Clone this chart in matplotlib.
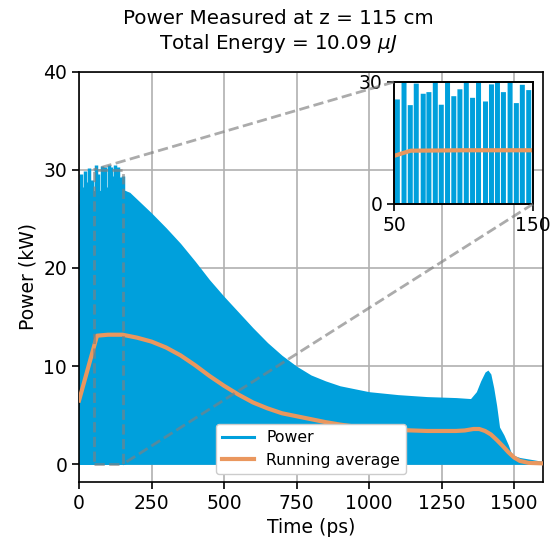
import numpy as np
import matplotlib
matplotlib.use('Agg')
import matplotlib.pyplot as plt
from mpl_toolkits.axes_grid1.inset_locator import mark_inset

# Envolvente de potencia (kW)
t_env = [0, 150, 175, 200, 250, 300, 350, 400, 450, 500, 550, 600, 650,
         700, 750, 800, 850, 900, 950, 1000, 1100, 1200, 1300, 1350, 1370,
         1385, 1400, 1410, 1420, 1430, 1440, 1450, 1465, 1480, 1490, 1500,
         1520, 1550, 1600]
p_env = [27.8, 28.0, 27.7, 27.0, 25.6, 24.1, 22.5, 20.7, 18.8, 17.1, 15.5,
         13.9, 12.4, 11.1, 10.0, 9.1, 8.5, 8.0, 7.7, 7.4, 7.1, 6.9, 6.8, 6.7,
         7.4, 8.5, 9.4, 9.6, 9.2, 7.8, 6.0, 3.8, 3.0, 2.0, 1.2, 0.9, 0.7,
         0.55, 0.3]

# Picos individuales al inicio del pulso
t_peak = [2.9, 7.4, 11.9, 16.4, 20.9, 25.4, 29.9, 34.4, 38.9, 43.4, 47.9,
          52.4, 57.2, 61.7, 66.0, 71.0, 75.1, 79.7, 84.0, 88.5, 93.0, 97.4,
          102.0, 106.5, 110.8, 115.8, 120.1, 124.4, 128.7, 133.5, 138.0,
          142.3, 146.9, 151.4, 155.9]
p_peak = [26.5, 29.6, 27.0, 28.2, 29.9, 27.5, 28.8, 30.2, 26.8, 29.0, 27.8,
          25.7, 30.5, 24.3, 29.6, 27.1, 27.5, 30.4, 24.4, 30.3, 26.5, 28.2,
          30.5, 26.1, 30.3, 25.2, 29.4, 30.5, 27.5, 30.3, 24.8, 29.3, 28.0,
          29.4, 27.8]

# Promedio movil
t_avg = [0, 62, 100, 150, 200, 250, 300, 350, 400, 450, 500, 550, 600, 650,
         700, 750, 800, 850, 900, 950, 1000, 1100, 1200, 1300, 1330, 1360,
         1380, 1400, 1420, 1440, 1460, 1480, 1500, 1520, 1550, 1600]
p_avg = [6.5, 13.1, 13.2, 13.2, 12.9, 12.5, 11.9, 11.1, 10.1, 9.0, 8.0, 7.1,
         6.3, 5.7, 5.2, 4.9, 4.6, 4.3, 4.05, 3.85, 3.7, 3.5, 3.4, 3.4, 3.45,
         3.6, 3.6, 3.4, 3.05, 2.5, 1.9, 1.25, 0.7, 0.35, 0.15, 0.1]

azul = '#00a0dc'
naranja = '#ea975e'
fs = 13.5

fig = plt.figure(figsize=(5.53, 5.41), dpi=100)
ax = fig.add_axes([0.1429, 0.109, 0.8391, 0.7588])

ax.fill_between(t_env, 0, p_env, color=azul, lw=0, zorder=2)
ax.vlines(t_peak, 0, p_peak, color=azul, lw=2.5, zorder=2)
ax.plot(t_avg, p_avg, color=naranja, lw=3, zorder=3)

# entradas de la leyenda
l1, = ax.plot([], [], color=azul, lw=2.2, label='Power')
l2, = ax.plot([], [], color=naranja, lw=3, label='Running average')
ax.legend(handles=[l1, l2], loc='lower center', fontsize=11.3, framealpha=1)

ax.set_xlim(0, 1600)
ax.set_ylim(-1.8, 40)
ax.set_xticks([0, 250, 500, 750, 1000, 1250, 1500])
ax.set_yticks([0, 10, 20, 30, 40])
ax.grid(True, color='#b0b0b0', lw=1.2)
ax.set_axisbelow(True)
ax.tick_params(labelsize=fs, width=1.2, length=5)
for s in ax.spines.values():
    s.set_linewidth(1.2)
ax.set_xlabel('Time (ps)', fontsize=fs)
ax.set_ylabel('Power (kW)', fontsize=fs)
fig.suptitle('Power Measured at z = 115 cm\nTotal Energy = 10.09 $\\mu J$',
             fontsize=14.3, x=0.503, y=0.983, va='top')

# Inset
axins = fig.add_axes([0.7125, 0.623, 0.2514, 0.2255])
axins.vlines(t_peak, 0, p_peak, color=azul, lw=3.6, snap=False)
axins.plot(t_avg, p_avg, color=naranja, lw=3)
axins.set_xlim(50, 150)
axins.set_ylim(0, 30)
axins.set_xticks([50, 150])
axins.set_yticks([0, 30])
axins.tick_params(labelsize=fs, width=1.2, length=5)
for s in axins.spines.values():
    s.set_linewidth(1.4)

mark_inset(ax, axins, loc1=2, loc2=4, fc='none', ec='0.5', ls='--', lw=2,
           alpha=0.66, zorder=5)

fig.savefig('out.png', dpi=100)
